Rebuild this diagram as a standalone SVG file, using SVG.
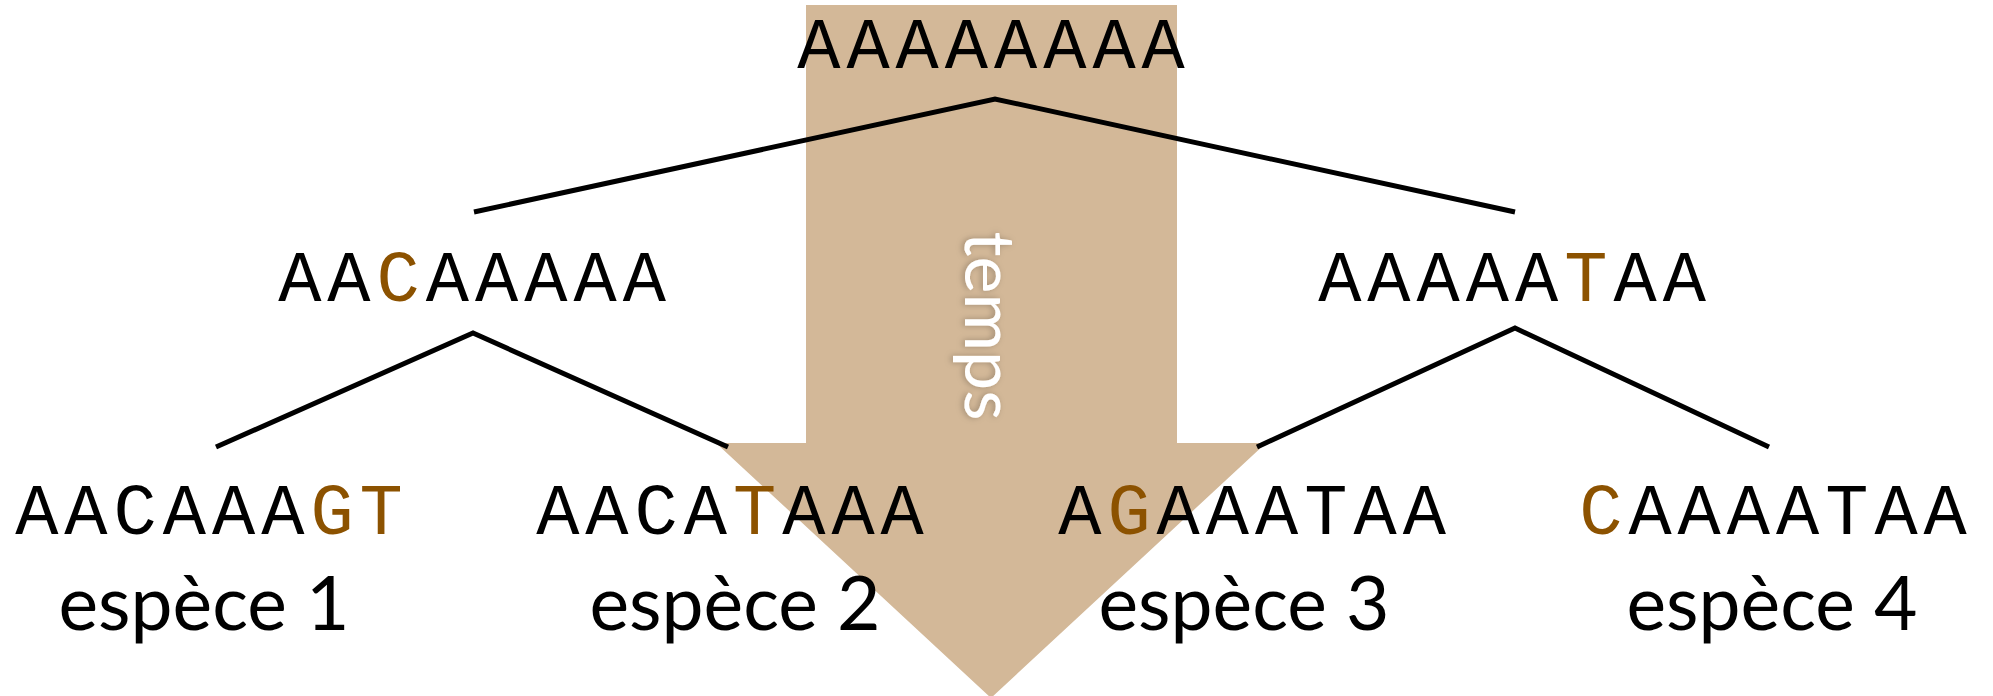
<svg xmlns="http://www.w3.org/2000/svg" width="1993" height="696" viewBox="0 0 1993 696">
  <style>
    .seq { font-family: 'Liberation Mono', 'Courier New', monospace; font-size: 72px; letter-spacing: 6px; fill: #000; text-anchor: middle; }
    .mut { fill: #8c5200; }
    .lab { font-family: Lato, 'Open Sans', sans-serif; font-size: 75px; fill: #000; text-anchor: middle; }
    .edge { stroke: #000; stroke-width: 5; fill: none; stroke-linejoin: miter; }
  </style>
  <defs>
    <filter id="soft" x="-30%" y="-10%" width="160%" height="120%">
      <feDropShadow dx="0" dy="2" stdDeviation="3" flood-color="#000" flood-opacity="0.25"/>
    </filter>
  </defs>
  <rect width="1993" height="696" fill="#fff"/>

  <!-- time arrow -->
  <g id="time-arrow">
    <polygon points="806,5 1177,5 1177,443 1266,443 991,698 716,443 806,443" fill="#d3b898"/>
    <text transform="translate(965,326) rotate(90)" font-family="Lato, 'Open Sans', sans-serif" font-size="70" fill="#fff" text-anchor="middle" filter="url(#soft)">temps</text>
  </g>

  <!-- tree branches -->
  <g id="connectors">
    <polyline class="edge" points="474,212 995,99 1515,212"/>
    <polyline class="edge" points="216,447 473,333 728,447"/>
    <polyline class="edge" points="1257,447 1515,328 1769,447"/>
  </g>

  <!-- letter-spacing adds 6px after the last glyph, so each x is moved 3px right -->
  <g id="root">
    <text class="seq" x="994" y="68">AAAAAAAA</text>
  </g>
  <g id="node-left">
    <text class="seq" x="475" y="301">AA<tspan class="mut">C</tspan>AAAAA</text>
  </g>
  <g id="node-right">
    <text class="seq" x="1515" y="301">AAAAA<tspan class="mut">T</tspan>AA</text>
  </g>

  <g id="species-1">
    <text class="seq" x="212" y="534">AACAAA<tspan class="mut">GT</tspan></text>
    <text class="lab" x="204" y="630">espèce 1</text>
  </g>
  <g id="species-2">
    <text class="seq" x="733" y="534">AACA<tspan class="mut">T</tspan>AAA</text>
    <text class="lab" x="735" y="630">espèce 2</text>
  </g>
  <g id="species-3">
    <text class="seq" x="1255" y="534">A<tspan class="mut">G</tspan>AAATAA</text>
    <text class="lab" x="1244" y="630">espèce 3</text>
  </g>
  <g id="species-4">
    <text class="seq" x="1776" y="534"><tspan class="mut">C</tspan>AAAATAA</text>
    <text class="lab" x="1772" y="630">espèce 4</text>
  </g>
</svg>
